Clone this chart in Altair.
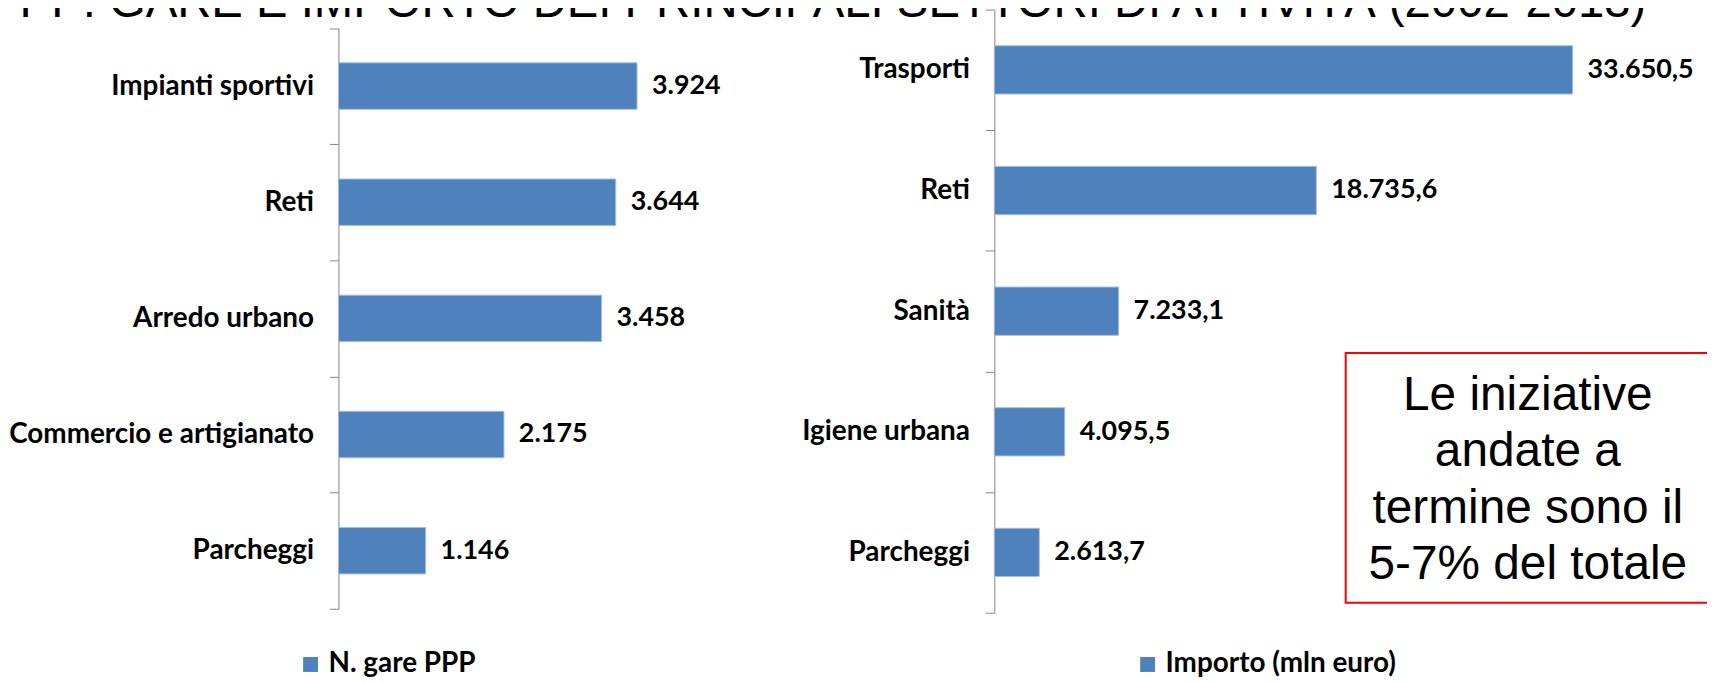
import altair as alt
import pandas as pd

# ---------------- data ----------------
cat_left = ["Impianti sportivi", "Reti", "Arredo urbano", "Commercio e artigianato", "Parcheggi"]
val_left = [3924, 3644, 3458, 2175, 1146]
series_left = "N. gare PPP"

cat_right = ["Trasporti", "Reti", "Sanità", "Igiene urbana", "Parcheggi"]
val_right = [33650.5, 18735.6, 7233.1, 4095.5, 2613.7]
series_right = "Importo (mln euro)"

title_text = "PPP: GARE E IMPORTO DEI PRINCIPALI SETTORI DI ATTIVITÀ (2002-2013)"
note_lines = ["Le iniziative", "andate a", "termine sono il", "5-7% del totale"]


def it_int(v):
    return f"{v:,.0f}".replace(",", ".")


def it_dec(v):
    return f"{v:,.1f}".replace(",", "X").replace(".", ",").replace("X", ".")


left_df = pd.DataFrame({"cat": cat_left, "val": val_left,
                        "label": [it_int(v) for v in val_left], "series": series_left})
right_df = pd.DataFrame({"cat": cat_right, "val": val_right,
                         "label": [it_dec(v) for v in val_right], "series": series_right})

# ---------------- style ----------------
BLUE = "#4F81BD"
LFONT = "Lato"
CAT_FS = 28
VAL_FS = 27


def panel(df, cats, series, x_dom, x_rng, y_rng, axis_offset, leg_x, leg_y):
    base = alt.Chart(df)
    y = alt.Y(
        "cat:N", sort=cats,
        scale=alt.Scale(range=y_rng, paddingInner=0, paddingOuter=0),
        axis=alt.Axis(orient="left", offset=axis_offset, title=None, grid=False,
                      domainColor="#868686", tickColor="#868686", tickSize=9,
                      tickBand="extent", labelPadding=16, labelFont=LFONT,
                      labelFontWeight="bold", labelFontSize=CAT_FS, labelColor="#000000",
                      labelLimit=500),
    )
    x = alt.X("val:Q", scale=alt.Scale(domain=x_dom, range=x_rng), axis=None)
    bars = base.mark_bar(height=alt.RelativeBandSize(band=0.4),
                         stroke="#A3BCDD", strokeWidth=1).encode(
        x=x, y=y,
        color=alt.Color(
            "series:N",
            scale=alt.Scale(domain=[series], range=[BLUE]),
            legend=alt.Legend(orient="none", legendX=leg_x, legendY=leg_y, title=None,
                              symbolType="square", symbolSize=225, symbolStrokeWidth=0,
                              labelFont=LFONT, labelFontWeight="bold", labelFontSize=28,
                              labelColor="#000000", labelOffset=4, labelLimit=500,
                              padding=0),
        ),
    )
    labels = base.mark_text(align="left", baseline="middle", dx=15, font=LFONT,
                            fontWeight="bold", fontSize=VAL_FS, color="#000000").encode(
        x=x, y=y, text="label:N")
    return alt.layer(bars, labels)


left = panel(left_df, cat_left, series_left, [0, 4000], [332, 637.8], [18.5, 602],
             -332, 290, 644)
right = panel(right_df, cat_right, series_right, [0, 40000], [991, 1681.6], [0, 606],
              -991, 1131, 644)

title_layer = alt.Chart(pd.DataFrame({"t": [title_text]})).mark_text(
    align="left", baseline="alphabetic", font="Liberation Sans", fontSize=47.5,
    color="#000000").encode(x=alt.value(-20), y=alt.value(7), text="t:N")

box = alt.Chart(pd.DataFrame({"a": [0]})).mark_rect(
    filled=False, stroke="#FF0000", strokeWidth=2).encode(
    x=alt.value(1344), x2=alt.value(1760), y=alt.value(345), y2=alt.value(596))

note = alt.Chart(pd.DataFrame({"a": [0]})).mark_text(
    align="center", baseline="alphabetic", font="Liberation Sans", fontSize=48,
    lineHeight=56.7, color="#000000").encode(
    x=alt.value(1527), y=alt.value(402), text=alt.value(note_lines))

chart = alt.layer(left, right, title_layer, box, note).resolve_scale(
    x="independent", y="independent", color="independent"
).properties(
    width=1707, height=674, padding=0,
    autosize=alt.AutoSizeParams(type="none"),
).configure_view(stroke=None)

chart.save("out.html", embed_options={"renderer": "svg", "actions": False})
